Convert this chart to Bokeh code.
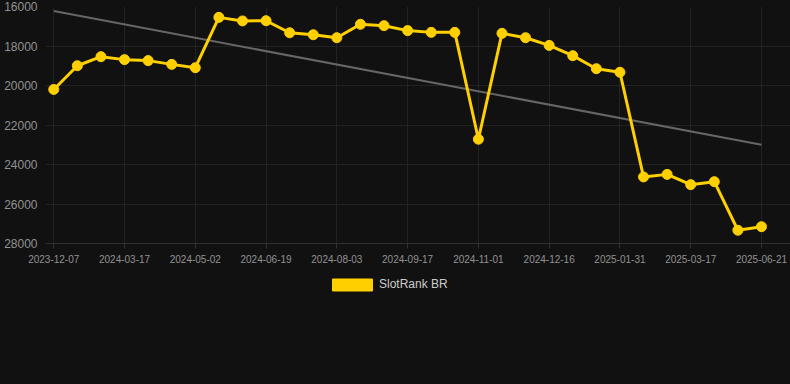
from bokeh.plotting import figure
from bokeh.layouts import column
from bokeh.models import (Range1d, FixedTicker, Legend, LegendItem, ColumnDataSource)
from bokeh.embed import file_html
from bokeh.resources import INLINE

# ---- data ----
dates = ["2023-12-07", "2024-01-20", "2024-02-25", "2024-03-17", "2024-04-01", "2024-04-17",
         "2024-05-02", "2024-05-18", "2024-06-03", "2024-06-19", "2024-07-04", "2024-07-19",
         "2024-08-03", "2024-08-18", "2024-09-02", "2024-09-17", "2024-10-02", "2024-10-17",
         "2024-11-01", "2024-11-16", "2024-12-01", "2024-12-16", "2024-12-31", "2025-01-15",
         "2025-01-31", "2025-02-15", "2025-03-02", "2025-03-17", "2025-04-20", "2025-05-25",
         "2025-06-21"]
rank = [20200, 19000, 18540, 18690, 18740, 18930, 19100, 16550, 16730, 16720,
        17330, 17430, 17580, 16900, 16970, 17220, 17310, 17310, 22720, 17360,
        17580, 17970, 18490, 19150, 19330, 24630, 24500, 25020, 24870, 27330, 27150]
trend_start = 16230
trend_end = 23000
y_ticks = [16000, 18000, 20000, 22000, 24000, 26000, 28000]
series_name = "SlotRank BR"

idx = list(range(len(dates)))
tick_idx = idx[::3]

BG = "#111111"
GRID = "#222222"
AXIS = "#303030"
YEL = "#FFD000"
TXT = "#929292"
FONT = "Liberation Sans"

p = figure(width=790, height=270, output_backend="svg", toolbar_location=None,
           x_range=Range1d(-0.35, 31.23), y_range=Range1d(28000, 16000),
           min_border_left=45, min_border_right=0, min_border_top=6, min_border_bottom=27,
           background_fill_color=BG, border_fill_color=None, outline_line_color=None)
p.styles = {"background-color": BG}

p.xgrid.grid_line_color = GRID
p.ygrid.grid_line_color = GRID
p.xaxis.ticker = FixedTicker(ticks=tick_idx)
p.xaxis.major_label_overrides = {i: dates[i] for i in tick_idx}
p.yaxis.ticker = FixedTicker(ticks=y_ticks)

p.xaxis.axis_line_color = AXIS
p.xaxis.major_tick_line_color = AXIS
p.xaxis.major_tick_in = 0
p.xaxis.major_tick_out = 5
p.xaxis.minor_tick_line_color = None
p.xaxis.major_label_standoff = 6
p.xaxis.major_label_text_font_size = "10px"
p.xaxis.major_label_text_color = TXT
p.xaxis.major_label_text_font = FONT

p.yaxis.axis_line_color = None
p.yaxis.major_tick_line_color = None
p.yaxis.minor_tick_line_color = None
p.yaxis.major_label_standoff = 2
p.yaxis.major_label_text_font_size = "12px"
p.yaxis.major_label_text_color = TXT
p.yaxis.major_label_text_font = FONT

# trend line
p.line([idx[0], idx[-1]], [trend_start, trend_end], line_color="#666666", line_width=2)

src = ColumnDataSource(dict(x=idx, y=rank))
p.line("x", "y", source=src, line_color=YEL, line_width=3)
p.scatter("x", "y", source=src, size=10, fill_color=YEL, line_color=YEL)

# legend strip below the chart
lg = figure(width=790, height=114, output_backend="svg", toolbar_location=None,
            x_range=Range1d(0, 1), y_range=Range1d(0, 1),
            min_border=0, background_fill_color=BG, border_fill_color=None,
            outline_line_color=None)
lg.styles = {"background-color": BG}
lg.axis.visible = False
lg.grid.visible = False
nan = float("nan")
sw = lg.quad(left=[nan], right=[nan], top=[nan], bottom=[nan], fill_color=YEL, line_color=YEL)
legend = Legend(items=[LegendItem(label=series_name, renderers=[sw])],
                location=(282, 92.5), orientation="horizontal",
                glyph_width=50, glyph_height=15, label_standoff=2,
                padding=0, margin=0, border_line_alpha=0, background_fill_alpha=0,
                label_text_font_size="12px", label_text_color="#cccccc",
                label_text_font=FONT)
lg.add_layout(legend, "center")

layout = column(p, lg, spacing=0)
layout.styles = {"background-color": BG}
open("out.html", "w").write(file_html(layout, INLINE))
